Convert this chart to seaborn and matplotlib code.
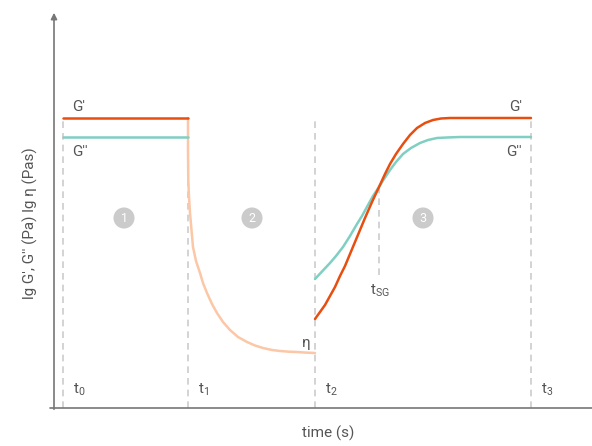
import matplotlib
matplotlib.use('Agg')
import matplotlib.pyplot as plt
import seaborn as sns

sns.set_theme(style='white')
plt.rcParams['font.family'] = ['Roboto', 'DejaVu Sans']

# schematic units (no ticks on the original)
t_marks = [9, 134, 261, 477]
t_names = ['t_0', 't_1', 't_2', 't_3']
t_sg = 325
g1_level = 290
g2_level = 271

# phase 1: constant moduli
p1_time = [9, 134]

# phase 2: viscosity decay
eta_time = [134, 134, 134.3, 135, 136, 137.5, 139, 142, 146, 149, 153, 158, 163, 169, 176,
            184, 193, 201, 209, 218, 226, 235, 243, 252, 261]
eta_val = [290, 258, 228, 211, 195, 178, 161, 147, 135, 125, 115, 104, 95, 86, 78,
           71, 66, 62.5, 60, 58, 57, 56.3, 56, 55.4, 55]

# phase 3: recovery
g1_time = [261, 266, 271, 276, 281, 286, 291, 296, 301, 306, 311, 318, 325, 331, 336, 342,
           349, 356, 363, 371, 379, 387, 396, 477]
g1_val = [89, 96, 103, 112, 121, 132, 142, 154, 166, 178, 190, 206, 221, 234, 244, 254,
          264, 273, 280, 285, 288, 289.5, 290, 290]
g2_time = [261, 268, 276, 282, 289, 296, 303, 308, 314, 319, 325, 330, 336, 342, 349, 357,
           366, 374, 383, 393, 406, 477]
g2_val = [129, 136.5, 145, 152, 161, 172, 184, 192, 203, 212, 221, 229, 238, 246, 254, 260,
          265, 268, 270, 270.5, 271, 271]

phase_x = [70, 198, 369]
phase_y = 190
phase_labels = ['1', '2', '3']

c_g1 = '#e84e0f'
c_g2 = '#7fcfc2'
c_eta = '#fcc7a6'
c_grey = '#cccccc'
c_text = '#555555'

fig = plt.figure(figsize=(5.92, 4.46), dpi=100)
ax = fig.add_axes([54/592, 38/446, 538/592, 396/446])
ax.set_xlim(0, 538)
ax.set_ylim(0, 396)

# dashed time markers
for t in t_marks:
    ax.plot([t, t], [0, g1_level], color=c_grey, ls=(0, (4, 3)), lw=1.2, zorder=1)
ax.plot([t_sg, t_sg], [133, 221], color=c_grey, ls=(0, (4, 3)), lw=1.2, zorder=1)

kw = dict(sort=False, estimator=None, lw=1.8, ax=ax, solid_joinstyle='round')
sns.lineplot(x=eta_time, y=eta_val, color=c_eta, **kw)
sns.lineplot(x=p1_time, y=[g2_level]*2, color=c_g2, **kw)
sns.lineplot(x=p1_time, y=[g1_level]*2, color=c_g1, **kw)
sns.lineplot(x=g2_time, y=g2_val, color=c_g2, **kw)
sns.lineplot(x=g1_time, y=g1_val, color=c_g1, **kw)

# phase numbers
ax.scatter(phase_x, [phase_y]*3, s=230, color='#cbcbcb', edgecolor='none', zorder=3)
for x, lab in zip(phase_x, phase_labels):
    ax.text(x, phase_y, lab, color='white', fontsize=9, ha='center', va='center', zorder=4)

# labels
ax.text(18, 301, "G'", color=c_text, fontsize=11, va='center')
ax.text(18, 256, "G''", color=c_text, fontsize=11, va='center')
ax.text(468, 301, "G'", color=c_text, fontsize=11, va='center', ha='right')
ax.text(468, 256, "G''", color=c_text, fontsize=11, va='center', ha='right')
ax.text(252, 65, 'η', color=c_text, fontsize=11, ha='center', va='center')
for t, name in zip(t_marks, t_names):
    ax.text(t + 10, 18, '$\\mathregular{' + name + '}$', color=c_text, fontsize=11, va='center')
ax.text(316, 117, '$\\mathregular{t_{SG}}$', color=c_text, fontsize=11, va='center')

# axes
for s in ax.spines.values():
    s.set_visible(False)
ax.set_xticks([])
ax.set_yticks([])
ax.plot([-4, 538], [0, 0], color='#777777', lw=1.2, clip_on=False)
ax.annotate('', xy=(0, 398), xytext=(0, -4), xycoords='data',
            arrowprops=dict(arrowstyle='-|>', color='#777777', lw=1.2, mutation_scale=9),
            annotation_clip=False)

fig.text(30/592, 1 - 223/446, 'lg G\', G\'\' (Pa) lg η (Pas)', rotation=90, color=c_text,
         fontsize=11, ha='center', va='center')
fig.text(328/592, 1 - 433/446, 'time (s)', color=c_text, fontsize=11, ha='center', va='center')

fig.savefig('out.png', dpi=100)
